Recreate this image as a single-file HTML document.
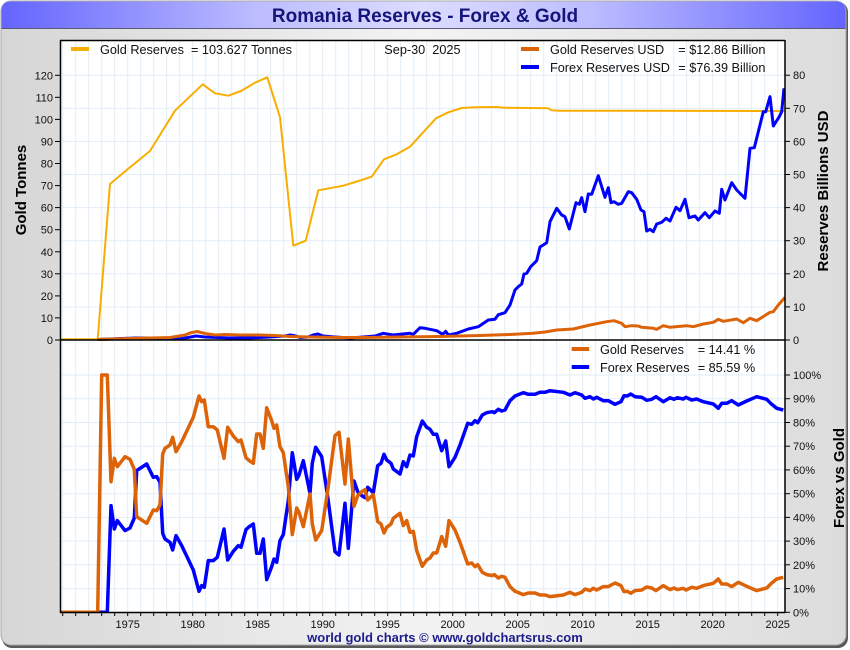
<!DOCTYPE html>
<html><head><meta charset="utf-8"><style>
html,body{margin:0;padding:0;background:#fff;}
svg{display:block;font-family:"Liberation Sans",Arial,sans-serif;}
</style></head><body>
<svg width="850" height="650" viewBox="0 0 850 650" xmlns="http://www.w3.org/2000/svg">
<defs>
<linearGradient id="bg" x1="0" x2="1" y1="0" y2="0">
<stop offset="0" stop-color="#d6d6d6"/><stop offset="0.5" stop-color="#f3f3f3"/><stop offset="1" stop-color="#dcdcdc"/>
</linearGradient>
<linearGradient id="tb" x1="0" x2="1" y1="0" y2="0">
<stop offset="0" stop-color="#6464ff"/><stop offset="0.3" stop-color="#bcbcff"/><stop offset="0.5" stop-color="#dcdcff"/><stop offset="0.7" stop-color="#bcbcff"/><stop offset="1" stop-color="#6464ff"/>
</linearGradient>
<clipPath id="cp"><rect x="60" y="40" width="725" height="573"/></clipPath>
</defs>
<rect x="0" y="0" width="850" height="650" fill="#ffffff"/>
<rect x="2" y="2" width="846" height="646" rx="10" ry="10" fill="#5a5a5a"/>
<rect x="1" y="1" width="845" height="644" rx="10" ry="10" fill="url(#bg)" stroke="#a8a8a8" stroke-width="1"/>
<path d="M11,1.5 H836 Q845.5,1.5 845.5,11 V28.5 H1.5 V11 Q1.5,1.5 11,1.5 Z" fill="url(#tb)"/>
<line x1="1.5" y1="28.5" x2="845.5" y2="28.5" stroke="#5a5a7a" stroke-width="1"/>
<text x="425" y="22" text-anchor="middle" font-size="19" font-weight="bold" fill="#14147a">Romania Reserves - Forex &amp; Gold</text>

<rect x="60" y="40" width="725" height="572" fill="#ffffff"/>
<g stroke="#e2edf7" stroke-width="1">
<line x1="62.7" y1="40" x2="62.7" y2="612"/><line x1="75.7" y1="40" x2="75.7" y2="612"/><line x1="88.7" y1="40" x2="88.7" y2="612"/><line x1="101.7" y1="40" x2="101.7" y2="612"/><line x1="114.7" y1="40" x2="114.7" y2="612"/><line x1="127.7" y1="40" x2="127.7" y2="612"/><line x1="140.7" y1="40" x2="140.7" y2="612"/><line x1="153.7" y1="40" x2="153.7" y2="612"/><line x1="166.7" y1="40" x2="166.7" y2="612"/><line x1="179.7" y1="40" x2="179.7" y2="612"/><line x1="192.7" y1="40" x2="192.7" y2="612"/><line x1="205.7" y1="40" x2="205.7" y2="612"/><line x1="218.7" y1="40" x2="218.7" y2="612"/><line x1="231.7" y1="40" x2="231.7" y2="612"/><line x1="244.7" y1="40" x2="244.7" y2="612"/><line x1="257.7" y1="40" x2="257.7" y2="612"/><line x1="270.7" y1="40" x2="270.7" y2="612"/><line x1="283.7" y1="40" x2="283.7" y2="612"/><line x1="296.7" y1="40" x2="296.7" y2="612"/><line x1="309.7" y1="40" x2="309.7" y2="612"/><line x1="322.7" y1="40" x2="322.7" y2="612"/><line x1="335.7" y1="40" x2="335.7" y2="612"/><line x1="348.7" y1="40" x2="348.7" y2="612"/><line x1="361.7" y1="40" x2="361.7" y2="612"/><line x1="374.7" y1="40" x2="374.7" y2="612"/><line x1="387.7" y1="40" x2="387.7" y2="612"/><line x1="400.7" y1="40" x2="400.7" y2="612"/><line x1="413.7" y1="40" x2="413.7" y2="612"/><line x1="426.7" y1="40" x2="426.7" y2="612"/><line x1="439.7" y1="40" x2="439.7" y2="612"/><line x1="452.7" y1="40" x2="452.7" y2="612"/><line x1="465.7" y1="40" x2="465.7" y2="612"/><line x1="478.7" y1="40" x2="478.7" y2="612"/><line x1="491.7" y1="40" x2="491.7" y2="612"/><line x1="504.7" y1="40" x2="504.7" y2="612"/><line x1="517.7" y1="40" x2="517.7" y2="612"/><line x1="530.7" y1="40" x2="530.7" y2="612"/><line x1="543.7" y1="40" x2="543.7" y2="612"/><line x1="556.7" y1="40" x2="556.7" y2="612"/><line x1="569.7" y1="40" x2="569.7" y2="612"/><line x1="582.7" y1="40" x2="582.7" y2="612"/><line x1="595.7" y1="40" x2="595.7" y2="612"/><line x1="608.7" y1="40" x2="608.7" y2="612"/><line x1="621.7" y1="40" x2="621.7" y2="612"/><line x1="634.7" y1="40" x2="634.7" y2="612"/><line x1="647.7" y1="40" x2="647.7" y2="612"/><line x1="660.7" y1="40" x2="660.7" y2="612"/><line x1="673.7" y1="40" x2="673.7" y2="612"/><line x1="686.7" y1="40" x2="686.7" y2="612"/><line x1="699.7" y1="40" x2="699.7" y2="612"/><line x1="712.7" y1="40" x2="712.7" y2="612"/><line x1="725.7" y1="40" x2="725.7" y2="612"/><line x1="738.7" y1="40" x2="738.7" y2="612"/><line x1="751.7" y1="40" x2="751.7" y2="612"/><line x1="764.7" y1="40" x2="764.7" y2="612"/><line x1="777.7" y1="40" x2="777.7" y2="612"/>
<line x1="60" y1="75.2" x2="785" y2="75.2"/><line x1="60" y1="108.3" x2="785" y2="108.3"/><line x1="60" y1="141.4" x2="785" y2="141.4"/><line x1="60" y1="174.5" x2="785" y2="174.5"/><line x1="60" y1="207.6" x2="785" y2="207.6"/><line x1="60" y1="240.7" x2="785" y2="240.7"/><line x1="60" y1="273.8" x2="785" y2="273.8"/><line x1="60" y1="306.9" x2="785" y2="306.9"/>
<line x1="60" y1="375" x2="785" y2="375"/><line x1="60" y1="398.7" x2="785" y2="398.7"/><line x1="60" y1="422.5" x2="785" y2="422.5"/><line x1="60" y1="446.2" x2="785" y2="446.2"/><line x1="60" y1="469.9" x2="785" y2="469.9"/><line x1="60" y1="493.7" x2="785" y2="493.7"/><line x1="60" y1="517.4" x2="785" y2="517.4"/><line x1="60" y1="541.1" x2="785" y2="541.1"/><line x1="60" y1="564.8" x2="785" y2="564.8"/><line x1="60" y1="588.6" x2="785" y2="588.6"/>
</g>

<g clip-path="url(#cp)" fill="none" stroke-linejoin="round">
<polyline stroke="#f8ae00" stroke-width="2" points="60,339.3 97.7,339.3 110,184 126.7,170 150,151 175,110.7 202.7,84.3 215,93.3 228.3,95.7 241,91 255,82.7 267.3,77.3 280,117.3 293.3,245.7 305.7,240.7 318.3,190.3 343.3,185.7 360,180.5 371.7,176.7 384,159.3 396.7,154.3 410,146.7 436,118.3 448.3,112.3 461.7,108 475,107.3 496.7,107 503.3,107.7 548.3,108.3 551.7,110.3 560,110.7 785,111"/>
<polyline stroke="#0000ff" stroke-width="3" points="97.7,339.5 135,338 170,338 180,339 196,336 205,337 230,338 250,338 270,337 285,336 290,335 296,336 300,337.5 308,337 313,335 318,334 323,336 335,337 350,338 360,337.3 375,336 383.3,333.3 393,335 410,333.3 413.3,334.3 420,327.7 425,328.3 436.7,330.7 442.7,334.3 445.7,331.3 448.3,335 456.7,333.3 468.3,329 478.3,326.7 488.3,320 495,319.3 498.3,314.7 505,312.7 510,305 515,290 518.3,286.7 521.7,284 524,274 526.7,273.3 530.7,266.7 536.7,260.7 540,247 546.7,242.7 550,221.7 556.7,208.3 561.7,215 565,216.7 569.3,229 576,202.7 579.3,204.3 581.7,197.7 585,211.7 588.3,194 591.7,194.3 598.3,175.7 605,197.3 608.3,187.7 611,202.7 614,201.7 618.3,204.3 621.7,203.3 628.3,191.7 631.7,192.7 636.7,199.3 641,210 644,211.7 646.7,231 650,229.3 653.3,231.7 656.7,224 661.7,222.3 666,218.3 670,221 676,207.3 680,210.7 685,199.3 689,217.7 695,216 698.3,220 705,212.7 709.3,217.7 715,211 719.3,213.3 721.7,189.3 725,200 731.7,182.7 736.7,190 745,198.3 750,148.3 754.3,147.7 758.3,131.7 763.3,111.7 765.7,111.7 770,96.7 773.3,126 779.3,116.7 781.7,111.7 784,88.3"/>
<polyline stroke="#dd6308" stroke-width="3" points="97.7,339.5 130,338.5 170,337.5 185,335 190,333 197,331.5 205,333.5 215,335 225,334.5 240,335 260,335 275,335.5 290,336.5 310,337 340,337.5 360,337.5 400,337 440,336.5 480,335.5 510,334.5 533,333.3 545,332 556.7,330 573.3,329 590,325 601.7,322.7 606.7,321.7 614,320.7 621.7,323.3 625,326.7 631.7,325.7 638.3,326 641.7,327.3 653.3,328.3 656.7,329.3 663.3,325.7 670,327.3 686.7,325.7 693.3,326.7 703.3,324 713.3,322.3 718.3,319.3 723.3,321.3 736.7,319 743.3,322.7 750,318.3 756.7,320.7 770,312.3 773.3,311.7 778.3,305 785,297.3"/>

<polyline stroke="#0000ff" stroke-width="3.5" points="60,612.3 107.3,612.3 111,505.6 114.3,529 117.3,520.6 125,530.6 130,528 134.3,518 136.7,470.6 146.7,464 153.3,477.3 156.7,476.6 160,482.3 162.7,533.3 165,539 170,542.3 172.7,550 176,535.6 181.7,545.6 193.3,570 199,591.3 201.7,585.6 204.3,587.3 208.3,560.6 213.3,560.6 217.3,557.3 224,529 227.7,560 233.3,551.3 238.3,545.6 241,547.3 246,529.6 249.3,526.6 253.3,524 256.7,553.3 260,553.3 263.3,539 266.7,579.6 271.7,566.6 274,559 276.7,562.3 280,540.6 283.3,534.6 288.3,500.6 292.3,452.7 296.7,479.3 299,475 303.3,460.7 310,493.3 312.3,463.3 315.7,447.3 321.7,456.7 327.7,496.7 335,551.7 339,555 345,503.3 348.3,548.3 354,481 357.7,491.7 362.3,496 365,497.7 367.7,487.3 373.3,492.7 377.7,465.7 381,463.3 384,454.3 386.7,460 391,463.3 393.3,469 400,474 403.3,461.7 406.7,466.7 410,455 413.3,456 416.7,436.7 422.3,421 426.7,427.3 430,429.3 433.3,434.3 436.7,434.3 441.7,450.7 445.7,441 449,466.7 455,457.3 460,445 467.7,423.3 471.7,424.3 475,420.7 477.7,422.7 482.3,415 486.7,412.7 492.3,411.7 494.3,412.7 498.3,409.3 501.7,411 505,410 510,400.7 515,396 520,394 523.3,392.7 528.3,394.3 535,394.3 540,392.3 545,392.3 550,390.7 563.3,392.3 570,395 575,392.7 581.7,395 585,398.3 590,396.7 593.3,399 596.7,397.3 603.3,400.7 608.3,400.7 615,404.3 621,401.7 624,395.7 627.3,396 630.7,394 635,396.7 641.7,397.3 646.7,400.3 651.7,399.3 656,396.7 663.3,401.7 670,397.7 674,399.3 677.3,397.7 683.3,399 686,397.3 691.7,400 696.7,399 703.3,401.7 713.3,404 718.3,408.3 721.7,403.3 726.7,403.3 731.7,400.7 738.3,405 746.7,401 756.7,396.7 766.7,399.3 771.7,404.3 776.7,408.3 783.3,410"/>
<polyline stroke="#dd6308" stroke-width="3.5" points="60,612.3 97.7,612.3 101.7,375 107.3,375 111,481.7 114.3,458.3 117.3,466.7 125,456.7 130,459.3 134.3,469.3 136.7,516.7 146.7,523.3 153.3,510 156.7,510.7 160,505 162.7,454 165,448.3 170,445 172.7,437.3 176,451.7 181.7,441.7 193.3,417.3 199,396 201.7,401.7 204.3,400 208.3,426.7 213.3,426.7 217.3,430 224,458.3 227.7,427.3 233.3,436 238.3,441.7 241,440 246,457.7 249.3,460.7 253.3,463.3 256.7,434 260,434 263.3,448.3 266.7,407.7 271.7,420.7 274,428.3 276.7,425 280,446.7 283.3,452.7 288.3,486.7 292.3,534.6 296.7,508 299,512.3 303.3,526.6 310,494 312.3,524 315.7,540 321.7,530.6 327.7,490.6 335,435.6 339,432.3 345,484 348.3,439 354,506.3 357.7,495.6 362.3,491.3 365,489.6 367.7,500 373.3,494.6 377.7,521.6 381,524 384,533 386.7,527.3 391,524 393.3,518.3 400,513.3 403.3,525.6 406.7,520.6 410,532.3 413.3,531.3 416.7,550.6 422.3,566.3 426.7,560 430,558 433.3,553 436.7,553 441.7,536.6 445.7,546.3 449,520.6 455,530 460,542.3 467.7,564 471.7,563 475,566.6 477.7,564.6 482.3,572.3 486.7,574.6 492.3,575.6 494.3,574.6 498.3,578 501.7,576.3 505,577.3 510,586.6 515,591.3 520,593.3 523.3,594.6 528.3,593 535,593 540,595 545,595 550,596.6 563.3,595 570,592.3 575,594.6 581.7,592.3 585,589 590,590.6 593.3,588.3 596.7,590 603.3,586.6 608.3,586.6 615,583 621,585.6 624,591.6 627.3,591.3 630.7,593.3 635,590.6 641.7,590 646.7,587 651.7,588 656,590.6 663.3,585.6 670,589.6 674,588 677.3,589.6 683.3,588.3 686,590 691.7,587.3 696.7,588.3 703.3,585.6 713.3,583.3 718.3,579 721.7,584 726.7,584 731.7,586.6 738.3,582.3 746.7,586.3 756.7,590.6 766.7,588 771.7,583 776.7,579 783.3,577.3"/>
</g>

<g stroke="#000" fill="none">
<line x1="60" y1="40.5" x2="785" y2="40.5" stroke-width="1.5"/>
<line x1="60.5" y1="40" x2="60.5" y2="613" stroke-width="1.5"/>
<line x1="785" y1="40" x2="785" y2="613" stroke-width="1.5"/>
<line x1="60" y1="340" x2="785" y2="340" stroke-width="1.5"/>
<line x1="60" y1="612.5" x2="785" y2="612.5" stroke-width="1.5"/>
</g>
<g stroke="#000" stroke-width="1">
<line x1="55" y1="340" x2="60" y2="340"/><line x1="55" y1="317.9" x2="60" y2="317.9"/><line x1="55" y1="295.9" x2="60" y2="295.9"/><line x1="55" y1="273.8" x2="60" y2="273.8"/><line x1="55" y1="251.8" x2="60" y2="251.8"/><line x1="55" y1="229.7" x2="60" y2="229.7"/><line x1="55" y1="207.6" x2="60" y2="207.6"/><line x1="55" y1="185.6" x2="60" y2="185.6"/><line x1="55" y1="163.5" x2="60" y2="163.5"/><line x1="55" y1="141.5" x2="60" y2="141.5"/><line x1="55" y1="119.4" x2="60" y2="119.4"/><line x1="55" y1="97.3" x2="60" y2="97.3"/><line x1="55" y1="75.3" x2="60" y2="75.3"/>
<line x1="785" y1="340" x2="790" y2="340"/><line x1="785" y1="306.9" x2="790" y2="306.9"/><line x1="785" y1="273.8" x2="790" y2="273.8"/><line x1="785" y1="240.7" x2="790" y2="240.7"/><line x1="785" y1="207.6" x2="790" y2="207.6"/><line x1="785" y1="174.5" x2="790" y2="174.5"/><line x1="785" y1="141.4" x2="790" y2="141.4"/><line x1="785" y1="108.3" x2="790" y2="108.3"/><line x1="785" y1="75.2" x2="790" y2="75.2"/>
<line x1="785" y1="612.3" x2="790" y2="612.3"/><line x1="785" y1="588.6" x2="790" y2="588.6"/><line x1="785" y1="564.8" x2="790" y2="564.8"/><line x1="785" y1="541.1" x2="790" y2="541.1"/><line x1="785" y1="517.4" x2="790" y2="517.4"/><line x1="785" y1="493.7" x2="790" y2="493.7"/><line x1="785" y1="469.9" x2="790" y2="469.9"/><line x1="785" y1="446.2" x2="790" y2="446.2"/><line x1="785" y1="422.5" x2="790" y2="422.5"/><line x1="785" y1="398.7" x2="790" y2="398.7"/><line x1="785" y1="375" x2="790" y2="375"/>
<line x1="62.7" y1="612" x2="62.7" y2="616"/><line x1="75.7" y1="612" x2="75.7" y2="616"/><line x1="88.7" y1="612" x2="88.7" y2="616"/><line x1="101.7" y1="612" x2="101.7" y2="616"/><line x1="114.7" y1="612" x2="114.7" y2="616"/><line x1="127.7" y1="612" x2="127.7" y2="616"/><line x1="140.7" y1="612" x2="140.7" y2="616"/><line x1="153.7" y1="612" x2="153.7" y2="616"/><line x1="166.7" y1="612" x2="166.7" y2="616"/><line x1="179.7" y1="612" x2="179.7" y2="616"/><line x1="192.7" y1="612" x2="192.7" y2="616"/><line x1="205.7" y1="612" x2="205.7" y2="616"/><line x1="218.7" y1="612" x2="218.7" y2="616"/><line x1="231.7" y1="612" x2="231.7" y2="616"/><line x1="244.7" y1="612" x2="244.7" y2="616"/><line x1="257.7" y1="612" x2="257.7" y2="616"/><line x1="270.7" y1="612" x2="270.7" y2="616"/><line x1="283.7" y1="612" x2="283.7" y2="616"/><line x1="296.7" y1="612" x2="296.7" y2="616"/><line x1="309.7" y1="612" x2="309.7" y2="616"/><line x1="322.7" y1="612" x2="322.7" y2="616"/><line x1="335.7" y1="612" x2="335.7" y2="616"/><line x1="348.7" y1="612" x2="348.7" y2="616"/><line x1="361.7" y1="612" x2="361.7" y2="616"/><line x1="374.7" y1="612" x2="374.7" y2="616"/><line x1="387.7" y1="612" x2="387.7" y2="616"/><line x1="400.7" y1="612" x2="400.7" y2="616"/><line x1="413.7" y1="612" x2="413.7" y2="616"/><line x1="426.7" y1="612" x2="426.7" y2="616"/><line x1="439.7" y1="612" x2="439.7" y2="616"/><line x1="452.7" y1="612" x2="452.7" y2="616"/><line x1="465.7" y1="612" x2="465.7" y2="616"/><line x1="478.7" y1="612" x2="478.7" y2="616"/><line x1="491.7" y1="612" x2="491.7" y2="616"/><line x1="504.7" y1="612" x2="504.7" y2="616"/><line x1="517.7" y1="612" x2="517.7" y2="616"/><line x1="530.7" y1="612" x2="530.7" y2="616"/><line x1="543.7" y1="612" x2="543.7" y2="616"/><line x1="556.7" y1="612" x2="556.7" y2="616"/><line x1="569.7" y1="612" x2="569.7" y2="616"/><line x1="582.7" y1="612" x2="582.7" y2="616"/><line x1="595.7" y1="612" x2="595.7" y2="616"/><line x1="608.7" y1="612" x2="608.7" y2="616"/><line x1="621.7" y1="612" x2="621.7" y2="616"/><line x1="634.7" y1="612" x2="634.7" y2="616"/><line x1="647.7" y1="612" x2="647.7" y2="616"/><line x1="660.7" y1="612" x2="660.7" y2="616"/><line x1="673.7" y1="612" x2="673.7" y2="616"/><line x1="686.7" y1="612" x2="686.7" y2="616"/><line x1="699.7" y1="612" x2="699.7" y2="616"/><line x1="712.7" y1="612" x2="712.7" y2="616"/><line x1="725.7" y1="612" x2="725.7" y2="616"/><line x1="738.7" y1="612" x2="738.7" y2="616"/><line x1="751.7" y1="612" x2="751.7" y2="616"/><line x1="764.7" y1="612" x2="764.7" y2="616"/><line x1="777.7" y1="612" x2="777.7" y2="616"/>
</g>

<g font-size="11" fill="#111" text-anchor="end">
<text x="53" y="344">0</text><text x="53" y="321.9">10</text><text x="53" y="299.9">20</text><text x="53" y="277.8">30</text><text x="53" y="255.8">40</text><text x="53" y="233.7">50</text><text x="53" y="211.6">60</text><text x="53" y="189.6">70</text><text x="53" y="167.5">80</text><text x="53" y="145.5">90</text><text x="53" y="123.4">100</text><text x="53" y="101.3">110</text><text x="53" y="79.3">120</text>
</g>
<g font-size="11" fill="#111">
<text x="793" y="344">0</text><text x="793" y="310.9">10</text><text x="793" y="277.8">20</text><text x="793" y="244.7">30</text><text x="793" y="211.6">40</text><text x="793" y="178.5">50</text><text x="793" y="145.4">60</text><text x="793" y="112.3">70</text><text x="793" y="79.2">80</text>
<text x="793" y="616.3">0%</text><text x="793" y="592.6">10%</text><text x="793" y="568.8">20%</text><text x="793" y="545.1">30%</text><text x="793" y="521.4">40%</text><text x="793" y="497.7">50%</text><text x="793" y="473.9">60%</text><text x="793" y="450.2">70%</text><text x="793" y="426.5">80%</text><text x="793" y="402.7">90%</text><text x="793" y="379">100%</text>
</g>
<g font-size="11" fill="#111" text-anchor="middle">
<text x="127.7" y="628">1975</text><text x="192.7" y="628">1980</text><text x="257.7" y="628">1985</text><text x="322.7" y="628">1990</text><text x="387.7" y="628">1995</text><text x="452.7" y="628">2000</text><text x="517.7" y="628">2005</text><text x="582.7" y="628">2010</text><text x="647.7" y="628">2015</text><text x="712.7" y="628">2020</text><text x="777.7" y="628">2025</text>
</g>

<g font-size="15" font-weight="bold" fill="#000" text-anchor="middle">
<text transform="translate(26,190) rotate(-90)">Gold Tonnes</text>
<text transform="translate(828,191) rotate(-90)">Reserves Billions USD</text>
<text transform="translate(844,478) rotate(-90)">Forex vs Gold</text>
</g>

<g font-size="12.7" fill="#111">
<rect x="71" y="47" width="18" height="4" fill="#f8ae00"/>
<text x="100" y="54">Gold Reserves</text><text x="191" y="54">= 103.627 Tonnes</text>
<text x="384.3" y="54">Sep-30</text><text x="432.3" y="54">2025</text>
<rect x="521" y="47" width="18" height="4" fill="#dd6308"/>
<text x="550" y="54">Gold Reserves USD</text><text x="678.3" y="54">= $12.86 Billion</text>
<rect x="521" y="65" width="18" height="4" fill="#0000ff"/>
<text x="550" y="72">Forex Reserves USD</text><text x="678.3" y="72">= $76.39 Billion</text>
<rect x="571.7" y="347" width="17.5" height="4" fill="#dd6308"/>
<text x="600" y="354">Gold Reserves</text><text x="697.7" y="354">= 14.41 %</text>
<rect x="571.7" y="365" width="17.5" height="4" fill="#0000ff"/>
<text x="600" y="372">Forex Reserves</text><text x="697.7" y="372">= 85.59 %</text>
</g>

<text x="445" y="642" text-anchor="middle" font-size="13" font-weight="bold" fill="#1c1c8c">world gold charts © www.goldchartsrus.com</text>
</svg>
</body></html>
